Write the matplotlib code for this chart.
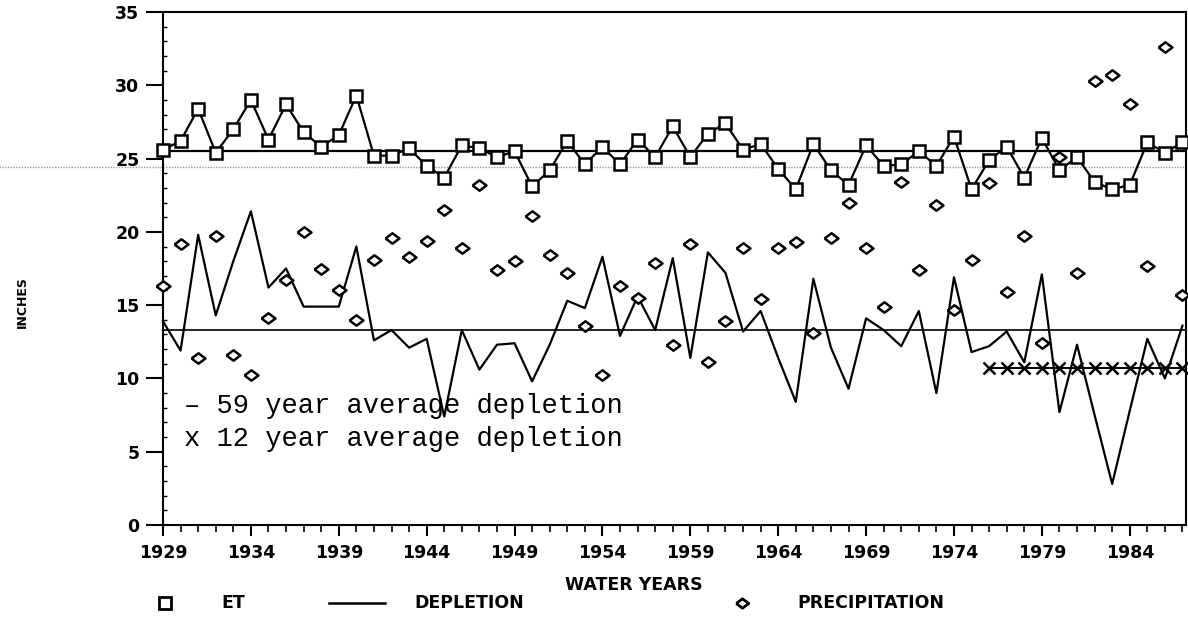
import numpy as np
import matplotlib
matplotlib.use("Agg")
import matplotlib.pyplot as plt
from matplotlib.lines import Line2D
from matplotlib.ticker import MultipleLocator

years = list(range(1929, 1988))

et = [25.6, 26.2, 28.4, 25.4, 27.0, 29.0, 26.3, 28.7, 26.8, 25.8, 26.6, 29.3,
      25.2, 25.2, 25.7, 24.5, 23.7, 25.9, 25.7, 25.1, 25.5, 23.1, 24.2, 26.2,
      24.6, 25.8, 24.6, 26.3, 25.1, 27.2, 25.1, 26.7, 27.4, 25.6, 26.0, 24.3,
      22.9, 26.0, 24.2, 23.2, 25.9, 24.5, 24.6, 25.5, 24.5, 26.5, 22.9, 24.9,
      25.8, 23.7, 26.4, 24.2, 25.1, 23.4, 22.9, 23.2, 26.1, 25.4, 26.1]

depletion = [13.9, 11.9, 19.8, 14.3, 18.0, 21.4, 16.2, 17.5, 14.9, 14.9, 14.9, 19.0,
             12.6, 13.3, 12.1, 12.7, 7.4, 13.3, 10.6, 12.3, 12.4, 9.8, 12.3, 15.3,
             14.8, 18.3, 12.9, 15.6, 13.3, 18.2, 11.4, 18.6, 17.2, 13.2, 14.6, 11.4,
             8.4, 16.8, 12.1, 9.3, 14.1, 13.3, 12.2, 14.6, 9.0, 16.9, 11.8, 12.2,
             13.2, 11.1, 17.1, 7.7, 12.3, 7.5, 2.8, 7.8, 12.7, 10.0, 13.6]

precip = [16.3, 19.2, 11.4, 19.7, 11.6, 10.2, 14.1, 16.7, 20.0, 17.5, 16.0, 14.0,
          18.1, 19.6, 18.3, 19.4, 21.5, 18.9, 23.2, 17.4, 18.0, 21.1, 18.4, 17.2,
          13.6, 10.2, 16.3, 15.5, 17.9, 12.3, 19.2, 11.1, 13.9, 18.9, 15.4, 18.9,
          19.3, 13.1, 19.6, 22.0, 18.9, 14.9, 23.4, 17.4, 21.8, 14.7, 18.1, 23.3,
          15.9, 19.7, 12.4, 25.1, 17.2, 30.3, 30.7, 28.7, 17.7, 32.6, 15.7]

et_avg = 25.5
depl_avg_59 = 13.3
depl_avg_12 = 10.7
years_12 = list(range(1976, 1988))
scan_line = 24.4

xtick_years = list(range(1929, 1988, 5))
yticks = list(range(0, 36, 5))

W, H = 1188, 619
fig = plt.figure(figsize=(W / 100, H / 100), dpi=100)
ax = fig.add_axes([163 / W, 1 - 525 / H, (1186 - 163) / W, (525 - 12) / H])

diamond = [(-1, 0), (0, 0.75), (1, 0), (0, -0.75), (-1, 0)]

ax.axhline(et_avg, color="black", lw=1.6, zorder=2)
ax.axhline(depl_avg_59, color="black", lw=1.2, zorder=2)
ax.axhline(scan_line, xmin=-0.17, xmax=1.01, color="#999999", lw=1.0,
           ls=(0, (1, 1)), clip_on=False, zorder=1)

ax.plot(years, et, color="black", lw=1.6, marker="s", ms=8.5, mfc="white",
        mec="black", mew=1.8, zorder=4, clip_on=False)
ax.plot(years, depletion, color="black", lw=1.6, zorder=3, clip_on=False)
ax.plot(years, precip, ls="none", marker=diamond, ms=10, mfc="white",
        mec="black", mew=1.8, zorder=5, clip_on=False)
ax.plot(years_12, [depl_avg_12] * len(years_12), color="black", lw=1.4,
        marker="x", ms=8, mew=1.8, zorder=4, clip_on=False)

ax.set_xlim(1929, 1987.2)
ax.set_ylim(0, 35)
ax.set_xticks(xtick_years)
ax.set_xticklabels([str(y) for y in xtick_years])
ax.xaxis.set_minor_locator(MultipleLocator(1))
ax.set_yticks(yticks)
ax.yaxis.set_minor_locator(MultipleLocator(1))

for s in ax.spines.values():
    s.set_linewidth(1.5)

ax.tick_params(axis="x", which="major", direction="out", length=8, width=1.5,
               pad=6, labelsize=12.5)
ax.tick_params(axis="x", which="minor", direction="out", length=5, width=1.2)
ax.tick_params(axis="y", which="major", direction="out", length=12, width=1.5,
               pad=5, labelsize=12.5)
ax.tick_params(axis="y", which="minor", direction="in", length=3, width=1.0)
for lab in ax.get_xticklabels() + ax.get_yticklabels():
    lab.set_fontweight("bold")
    lab.set_family("DejaVu Sans")

mono = "Liberation Mono"
ax.text(0.021, 0.232, "\u2013 59 year average depletion", transform=ax.transAxes,
        family=mono, fontsize=19.5, va="center", ha="left")
ax.text(0.021, 0.168, "x 12 year average depletion", transform=ax.transAxes,
        family=mono, fontsize=19.5, va="center", ha="left")

fig.text(22 / W, 1 - 302 / H, "INCHES", rotation=90, ha="center", va="center",
         fontsize=9, fontweight="bold")
fig.text(634 / W, 1 - 585 / H, "WATER YEARS", ha="center", va="center",
         fontsize=12.5, fontweight="bold")

ly = 1 - 603 / H
fig.add_artist(Line2D([165 / W], [ly], marker="s", ms=8, mfc="white",
                      mec="black", mew=2.0, transform=fig.transFigure))
fig.text(221 / W, ly, "ET", ha="left", va="center", fontsize=12.5,
         fontweight="bold")
fig.add_artist(Line2D([329 / W, 385 / W], [ly, ly], color="black", lw=1.8,
                      transform=fig.transFigure))
fig.text(414 / W, ly, "DEPLETION", ha="left", va="center", fontsize=12.5,
         fontweight="bold")
fig.add_artist(Line2D([742 / W], [ly], marker=diamond, ms=9, mfc="white",
                      mec="black", mew=2.0, transform=fig.transFigure))
fig.text(797 / W, ly, "PRECIPITATION", ha="left", va="center", fontsize=12.5,
         fontweight="bold")

fig.savefig("out.png", dpi=100)
